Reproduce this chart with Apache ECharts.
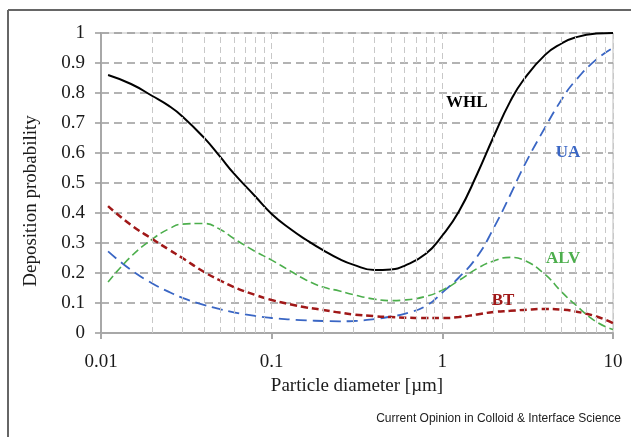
<!DOCTYPE html>
<html>
	<head>
		<meta charset="utf-8">
		<title>Deposition probability</title>
		<style>
			html, body { margin: 0; padding: 0; background: #fff; }
			#main { width: 631px; height: 437px; }
		</style>
	</head>
	<body>
		<div id="main"></div>
	</body>
	<script src="https://cdn.jsdelivr.net/npm/echarts@6/dist/echarts.min.js"></script>
	<script>
		// particle diameter [um], shared by all curves
		var diam = [0.011, 0.015, 0.02, 0.025, 0.03, 0.04, 0.05, 0.06, 0.08, 0.1,
			0.13, 0.16, 0.2, 0.25, 0.3, 0.4, 0.5, 0.6, 0.8, 1,
			1.25, 1.6, 2, 2.5, 3, 4, 5, 6, 8, 10];

		// deposition probability
		var whl = [0.86, 0.83, 0.79, 0.757, 0.722, 0.652, 0.587, 0.532, 0.456, 0.397,
			0.345, 0.31, 0.276, 0.246, 0.228, 0.21, 0.212, 0.224, 0.264, 0.325,
			0.405, 0.53, 0.655, 0.772, 0.845, 0.927, 0.965, 0.985, 0.998, 1.0];
		var ua = [0.272, 0.21, 0.165, 0.137, 0.117, 0.094, 0.079, 0.069, 0.057, 0.05,
			0.045, 0.042, 0.04, 0.039, 0.04, 0.046, 0.055, 0.064, 0.09, 0.135,
			0.185, 0.255, 0.35, 0.46, 0.555, 0.685, 0.778, 0.84, 0.912, 0.95];
		var alv = [0.17, 0.255, 0.313, 0.347, 0.363, 0.365, 0.345, 0.315, 0.272, 0.243,
			0.205, 0.176, 0.153, 0.14, 0.128, 0.113, 0.108, 0.11, 0.122, 0.143,
			0.175, 0.215, 0.24, 0.252, 0.243, 0.195, 0.137, 0.095, 0.037, 0.012];
		var bt = [0.423, 0.36, 0.313, 0.278, 0.25, 0.204, 0.175, 0.153, 0.127, 0.11,
			0.095, 0.085, 0.077, 0.068, 0.062, 0.056, 0.053, 0.051, 0.05, 0.05,
			0.053, 0.062, 0.07, 0.074, 0.077, 0.08, 0.078, 0.072, 0.055, 0.033];

		// curve labels [x, y]
		var labelNames = ['WHL', 'UA', 'ALV', 'BT'];
		var labelPos = [[1.39, 0.767], [5.45, 0.6], [5.1, 0.247], [2.27, 0.107]];

		var minorX = [0.02, 0.03, 0.04, 0.05, 0.06, 0.07, 0.08, 0.09,
			0.2, 0.3, 0.4, 0.5, 0.6, 0.7, 0.8, 0.9,
			2, 3, 4, 5, 6, 7, 8, 9];

		var colors = ['#000000', '#3a66c4', '#4cae4c', '#a01818'];

		function pairs(xs, ys) {
			var out = [];
			for (var i = 0; i < xs.length; i++) out.push([xs[i], ys[i]]);
			return out;
		}

		function curveLabel(i) {
			return {
				symbol: 'circle', symbolSize: 0, silent: true, animation: false,
				data: [{
					coord: labelPos[i],
					label: {
						show: true, position: 'inside', formatter: labelNames[i],
						color: colors[i], fontFamily: 'Liberation Serif', fontWeight: 'bold', fontSize: 17
					}
				}]
			};
		}

		var serif = 'Liberation Serif';
		var myChart = echarts.init(document.getElementById('main'));
		var option = {
			animation: false,
			grid: { left: 101, right: 18, top: 33, bottom: 104, show: true, borderColor: '#bdbdbd', borderWidth: 1 },
			xAxis: {
				type: 'log', logBase: 10, min: 0.01, max: 10,
				name: 'Particle diameter [\u00b5m]', nameLocation: 'middle', nameGap: 44,
				nameTextStyle: { fontFamily: serif, fontSize: 19, color: '#1a1a1a' },
				axisLine: { lineStyle: { color: '#a8a8a8', width: 2 } },
				axisTick: { show: true, length: 6, lineStyle: { color: '#a8a8a8', width: 2 } },
				axisLabel: { fontFamily: serif, fontSize: 19, color: '#1a1a1a', margin: 20 },
				splitLine: { show: true, lineStyle: { color: '#c8c8c8', width: 1, type: [6, 4] } }
			},
			yAxis: {
				type: 'value', min: 0, max: 1, interval: 0.1,
				axisLine: { show: true, lineStyle: { color: '#a8a8a8', width: 2 } },
				axisTick: { show: true, length: 6, lineStyle: { color: '#9a9a9a', width: 1.5 } },
				axisLabel: { fontFamily: serif, fontSize: 19, color: '#1a1a1a', margin: 16 },
				splitLine: { show: true, lineStyle: { color: '#9a9a9a', width: 1.5, type: [8, 5] } }
			},
			graphic: [
				{ type: 'line', shape: { x1: 8, y1: 10, x2: 631, y2: 10 }, style: { stroke: '#666', lineWidth: 2 } },
				{ type: 'line', shape: { x1: 8, y1: 10, x2: 8, y2: 437 }, style: { stroke: '#666', lineWidth: 2 } },
				{
					type: 'text', x: 31, y: 201, rotation: Math.PI / 2,
					style: { text: 'Deposition probability', fontFamily: serif, fontSize: 19, fill: '#1a1a1a', align: 'center', verticalAlign: 'middle' }
				},
				{
					type: 'text', x: 621, y: 419,
					style: { text: 'Current Opinion in Colloid & Interface Science', fontFamily: 'Liberation Sans', fontSize: 12, fill: '#222', align: 'right', verticalAlign: 'middle' }
				}
			],
			series: [
				{
					type: 'line', z: 1, data: [], silent: true,
					markLine: {
						silent: true, animation: false, symbol: 'none', label: { show: false },
						lineStyle: { color: '#c8c8c8', width: 1, type: [6, 4] },
						data: minorX.map(function (v) { return { xAxis: v }; })
					}
				},
				{
					name: 'WHL', type: 'line', data: pairs(diam, whl), smooth: 0.5, showSymbol: false,
					lineStyle: { color: colors[0], width: 2, type: 'solid' }, markPoint: curveLabel(0)
				},
				{
					name: 'UA', type: 'line', data: pairs(diam, ua), smooth: 0.5, showSymbol: false,
					lineStyle: { color: colors[1], width: 1.8, type: [11, 6] }, markPoint: curveLabel(1)
				},
				{
					name: 'ALV', type: 'line', data: pairs(diam, alv), smooth: 0.5, showSymbol: false,
					lineStyle: { color: colors[2], width: 1.6, type: [8, 4] }, markPoint: curveLabel(2)
				},
				{
					name: 'BT', type: 'line', data: pairs(diam, bt), smooth: 0.5, showSymbol: false,
					lineStyle: { color: colors[3], width: 2.5, type: [7, 4] }, markPoint: curveLabel(3)
				}
			]
		};
		myChart.setOption(option);
	</script>
</html>
